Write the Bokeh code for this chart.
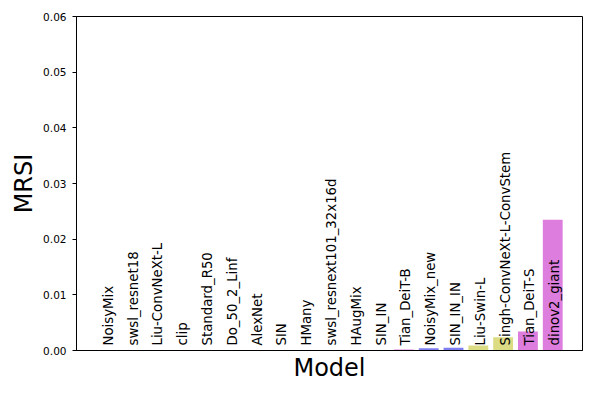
import math
from bokeh.plotting import figure
from bokeh.models import (FactorRange, FixedTicker, NumeralTickFormatter, ColumnDataSource,
                          Range1d, LinearAxis, Span)
from bokeh.core.properties import value
from bokeh.embed import file_html
from bokeh.resources import INLINE

models = ["NoisyMix", "swsl_resnet18", "Liu-ConvNeXt-L", "clip", "Standard_R50",
          "Do_50_2_Linf", "AlexNet", "SIN", "HMany", "swsl_resnext101_32x16d",
          "HAugMix", "SIN_IN", "Tian_DeiT-B", "NoisyMix_new", "SIN_IN_IN",
          "Liu-Swin-L", "Singh-ConvNeXt-L-ConvStem", "Tian_DeiT-S", "dinov2_giant"]
mrsi = [0.0, 0.0, 0.0, 0.0, 0.0, 0.0, 0.0, 0.0, 0.0, 0.0, 0.0, 0.0,
        0.0002, 0.0004, 0.0005, 0.0009, 0.0024, 0.0034, 0.0235]
bar_colors = ["#7e7ef0", "#dcdc84", "#dcdc84", "#dd7ddd", "#7e7ef0", "#7e7ef0",
              "#7e7ef0", "#7e7ef0", "#7e7ef0", "#dcdc84", "#7e7ef0", "#7e7ef0",
              "#dd7ddd", "#7e7ef0", "#7e7ef0", "#dcdc84", "#dcdc84", "#dd7ddd", "#dd7ddd"]
y_ticks = [0.0, 0.01, 0.02, 0.03, 0.04, 0.05, 0.06]

FONT = "DejaVu Sans"
PAD = 0.7

src = ColumnDataSource(dict(model=models, mrsi=mrsi, color=bar_colors,
                            base=[0.0] * len(models)))

xr = FactorRange(factors=models, range_padding=PAD, range_padding_units="absolute")
p = figure(x_range=xr, y_range=Range1d(0, 0.06), width=584, height=384,
           output_backend="svg", toolbar_location=None, x_axis_type=None,
           min_border_left=76, min_border_right=2, min_border_top=16, min_border_bottom=0)

p.vbar(x="model", top="mrsi", width=0.8, fill_color="color", line_color=None, source=src)
p.text(x="model", y="base", text="model", source=src, angle=math.pi / 2,
       text_align="left", text_baseline="middle", y_offset=-5, x_offset=2,
       text_font=value(FONT), text_font_size="13.3px", text_color="black")

p.xgrid.grid_line_color = None
p.ygrid.grid_line_color = None
p.outline_line_color = "black"
p.outline_line_width = 1

# bottom spine drawn explicitly at y = 0
p.add_layout(Span(location=0, dimension="width", line_color="black", line_width=1))

xaxis = LinearAxis(ticker=FixedTicker(ticks=[]), axis_label="Model")
xaxis.axis_label_text_font = FONT
xaxis.axis_label_text_font_size = "24px"
xaxis.axis_label_text_font_style = "normal"
xaxis.axis_label_text_color = "black"
xaxis.axis_label_text_line_height = 1.0
xaxis.axis_label_standoff = 3
xaxis.major_tick_line_color = None
xaxis.minor_tick_line_color = None
xaxis.major_tick_out = 0
xaxis.major_tick_in = 0
xaxis.major_label_standoff = 0
xaxis.axis_line_color = "black"
xaxis.axis_line_width = 1
p.add_layout(xaxis, "below")

p.yaxis.axis_label = "MRSI"
p.yaxis.axis_label_text_font = FONT
p.yaxis.axis_label_text_font_size = "24px"
p.yaxis.axis_label_text_font_style = "normal"
p.yaxis.axis_label_text_color = "black"
p.yaxis.axis_label_standoff = 2
p.yaxis.ticker = FixedTicker(ticks=y_ticks)
p.yaxis.formatter = NumeralTickFormatter(format="0.00")
p.yaxis.major_label_text_font = FONT
p.yaxis.major_label_text_font_size = "10.5px"
p.yaxis.major_label_text_color = "black"
p.yaxis.major_tick_out = 4
p.yaxis.major_tick_in = 0
p.yaxis.major_label_standoff = 6
p.yaxis.minor_tick_line_color = None
p.yaxis.axis_line_color = "black"
p.yaxis.major_tick_line_color = "black"

open("out.html", "w").write(file_html(p, INLINE))
